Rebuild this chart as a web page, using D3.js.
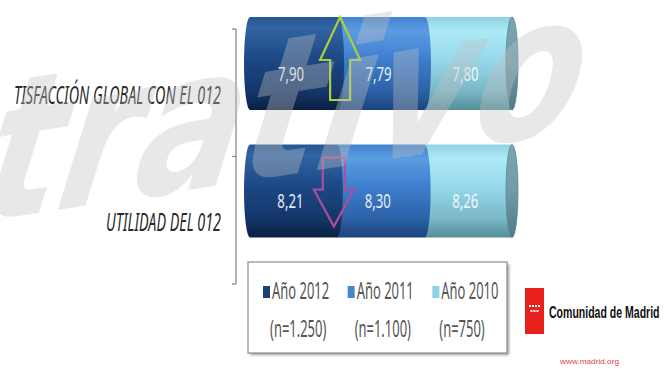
<!DOCTYPE html>
<html><head><meta charset="utf-8">
<script src="https://cdn.jsdelivr.net/npm/d3@7"></script>
<style>html,body{margin:0;padding:0;background:#fff;overflow:hidden}</style>
</head><body>
<svg id="c" width="664" height="369"></svg>
<script>
// ---- data ----
const categories = ["TISFACCIÓN GLOBAL CON EL 012", "UTILIDAD DEL 012"];
const seriesKeys = ["2012", "2011", "2010"];
const seriesNames = ["Año 2012", "Año 2011", "Año 2010"];
const seriesSamples = ["(n=1.250)", "(n=1.100)", "(n=750)"];
const values2012 = [7.90, 8.21];
const values2011 = [7.79, 8.30];
const values2010 = [7.80, 8.26];
const trends = ["up", "down"];

// ---- layout / style ----
const colors = {
  "2012": [["0", "#285793"], ["0.12", "#3264a3"], ["0.45", "#1c4885"], ["0.8", "#143668"], ["1", "#0a1f44"]],
  "2011": [["0", "#4283cf"], ["0.15", "#5c9ce2"], ["0.45", "#3e7ecf"], ["0.8", "#2c61a6"], ["1", "#1b447d"]],
  "2010": [["0", "#8fd2e3"], ["0.15", "#ade9f6"], ["0.45", "#97daec"], ["0.8", "#79b7c7"], ["1", "#558c98"]]
};
const legendColors = {"2012": "#1f3f7a", "2011": "#4a86cf", "2010": "#8fd3e8"};

const fmt = d3.formatLocale({decimal: ",", thousands: ".", grouping: [3], currency: ["", "€"]}).format(".2f");

const table = categories.map((c, i) => ({cat: c, "2012": values2012[i], "2011": values2011[i], "2010": values2010[i], trend: trends[i]}));
const stacked = d3.stack().keys(seriesKeys).offset(d3.stackOffsetExpand)(table);

const svg = d3.select("#c");
const defs = svg.append("defs");
seriesKeys.forEach(k => {
  const g = defs.append("linearGradient").attr("id", "g" + k).attr("x1", 0).attr("y1", 0).attr("x2", 0).attr("y2", 1);
  colors[k].forEach(s => g.append("stop").attr("offset", s[0]).attr("stop-color", s[1]));
});
const cg = defs.append("linearGradient").attr("id", "gcap").attr("x1", 0).attr("y1", 0).attr("x2", 0).attr("y2", 1);
[["0", "#7aa6b2"], ["0.5", "#6f9ca8"], ["1", "#4f7a86"]].forEach(s => cg.append("stop").attr("offset", s[0]).attr("stop-color", s[1]));
const sh = defs.append("filter").attr("id", "blur").attr("x", "-10%").attr("y", "-10%").attr("width", "120%").attr("height", "130%");
sh.append("feGaussianBlur").attr("stdDeviation", 1.5);

const y = d3.scaleBand().domain(categories).range([29, 284]).paddingInner(0).paddingOuter(0);
const x = d3.scaleLinear().domain([0, 1]).range([250, 512]);
const barOffset = -12, barH = 93, rx = 6;
const barTop = c => y(c) + barOffset;

// axis
const axisX = 236;
const ax = svg.append("g").attr("stroke", "#8a8a8a").attr("stroke-width", 1.3);
ax.append("line").attr("x1", axisX).attr("x2", axisX).attr("y1", y.range()[0]).attr("y2", y.range()[1]);
const tickYs = categories.map(c => y(c)).concat([y.range()[1]]);
ax.selectAll("line.t").data(tickYs).join("line").attr("class", "t")
  .attr("x1", axisX - 4).attr("x2", axisX).attr("y1", d => d).attr("y2", d => d);

// category labels
svg.append("g").selectAll("text").data(categories).join("text")
  .attr("x", axisX - 15).attr("y", d => y(d) + y.bandwidth() / 2 + 11)
  .attr("text-anchor", "end")
  .attr("font-family", "Noto Sans").attr("font-style", "italic").attr("font-size", 25)
  .attr("fill", "#2a2a2a")
  .attr("textLength", (d, i) => i === 0 ? 207 : 115)
  .attr("lengthAdjust", "spacingAndGlyphs")
  .text(d => d);

// bars (cylinder segments), drawn right to left so each left segment's bulge overlaps
const segPath = (x0, x1, t, b, first) => {
  const ry = (b - t) / 2;
  let p = `M${x0},${t} L${x1},${t} A${rx},${ry} 0 0 1 ${x1},${b} L${x0},${b}`;
  p += first ? ` A${rx},${ry} 0 0 1 ${x0},${t} Z` : " Z";
  return p;
};
const barsG = svg.append("g");
stacked.slice().reverse().forEach(layer => {
  const k = layer.key;
  barsG.append("g").selectAll("path").data(layer).join("path")
    .attr("d", d => segPath(x(d[0]), x(d[1]), barTop(d.data.cat), barTop(d.data.cat) + barH, k === seriesKeys[0]))
    .attr("fill", `url(#g${k})`);
});
// end caps
barsG.append("g").selectAll("ellipse").data(categories).join("ellipse")
  .attr("cx", x(1)).attr("cy", c => barTop(c) + barH / 2).attr("rx", rx).attr("ry", barH / 2)
  .attr("fill", "url(#gcap)").attr("stroke", "#5d8893").attr("stroke-width", 0.8);

// value labels
stacked.forEach(layer => {
  svg.append("g").selectAll("text").data(layer).join("text")
    .attr("transform", d => `translate(${(x(d[0]) + x(d[1])) / 2 - 3},${barTop(d.data.cat) + barH / 2 + 17}) scale(0.66,1)`)
    .attr("text-anchor", "middle")
    .attr("font-family", "Noto Sans").attr("font-size", 20)
    .attr("fill", layer.key === "2010" ? "#eef8fb" : "#e8eef6")
    .text(d => fmt(d.data[layer.key]));
});

// trend arrows
const arrowG = svg.append("g").attr("fill", "none").attr("stroke-width", 2.2).attr("stroke-linejoin", "miter");
table.forEach((row, i) => {
  const cx = x(stacked[0][i][1]) + (row.trend === "up" ? 2 : -3);
  const t = barTop(row.cat);
  let pts;
  if (row.trend === "up") {
    pts = [[cx, t], [cx + 20, t + 43], [cx + 10, t + 43], [cx + 10, t + 83], [cx - 10, t + 83], [cx - 10, t + 43], [cx - 20, t + 43]];
  } else {
    pts = [[cx - 11, t + 13], [cx + 11, t + 13], [cx + 11, t + 45], [cx + 20, t + 45], [cx, t + 82], [cx - 20, t + 45], [cx - 11, t + 45]];
  }
  arrowG.append("path").attr("d", d3.line()(pts) + "Z")
    .attr("stroke", row.trend === "up" ? "#abd03a" : "#b04c9e");
});

// legend
const lg = svg.append("g");
lg.append("rect").attr("x", 250).attr("y", 264).attr("width", 259).attr("height", 91).attr("fill", "#9a9a9a").attr("filter", "url(#blur)");
lg.append("rect").attr("x", 248).attr("y", 262).attr("width", 259).attr("height", 91).attr("fill", "#fff").attr("stroke", "#8c8c8c").attr("stroke-width", 1.2);
const lx = d3.scaleBand().domain(seriesKeys).range([258, 512]);
const items = lg.selectAll("g.it").data(seriesKeys).join("g").attr("class", "it");
items.append("rect").attr("x", k => lx(k) + 5).attr("y", 286).attr("width", 7).attr("height", 12).attr("fill", k => legendColors[k]);
items.append("text").attr("transform", k => `translate(${lx(k) + 14},299) scale(0.54,1)`)
  .attr("font-family", "Noto Sans").attr("font-size", 24).attr("fill", "#555")
  .text((k, i) => seriesNames[i]);
items.append("text").attr("transform", k => `translate(${lx(k) + 12},337) scale(0.54,1)`)
  .attr("font-family", "Noto Sans").attr("font-size", 24).attr("fill", "#555")
  .text((k, i) => seriesSamples[i]);

// logo
const logo = svg.append("g");
logo.append("rect").attr("x", 525).attr("y", 288).attr("width", 19).attr("height", 46).attr("fill", "#e8201c");
const starRows = [[529, 532, 535, 538], [530.5, 533.5, 536.5]];
starRows.forEach((row, r) => row.forEach(sx => logo.append("rect").attr("x", sx).attr("y", 305 + r * 5).attr("width", 2).attr("height", 2).attr("fill", "#fff")));
logo.append("text").attr("transform", "translate(549,318) scale(0.62,1)")
  .attr("font-family", "Liberation Sans").attr("font-weight", "bold").attr("font-size", 17).attr("fill", "#111")
  .text("Comunidad de Madrid");
logo.append("text").attr("x", 560).attr("y", 364).attr("font-family", "Liberation Sans").attr("font-size", 8)
  .attr("fill", "#e04545").attr("textLength", 59).attr("lengthAdjust", "spacingAndGlyphs").text("www.madrid.org");

// watermark
svg.append("g").attr("transform", "translate(-22,222) rotate(-8.7) skewX(-18)")
  .append("text").attr("x", 0).attr("y", 0)
  .attr("font-family", "DejaVu Sans").attr("font-weight", "bold").attr("font-style", "italic")
  .attr("font-size", 192).attr("textLength", 605).attr("lengthAdjust", "spacingAndGlyphs")
  .attr("fill", "#c1c1c1").attr("fill-opacity", 0.37)
  .text("trativo");
</script>
</body></html>
